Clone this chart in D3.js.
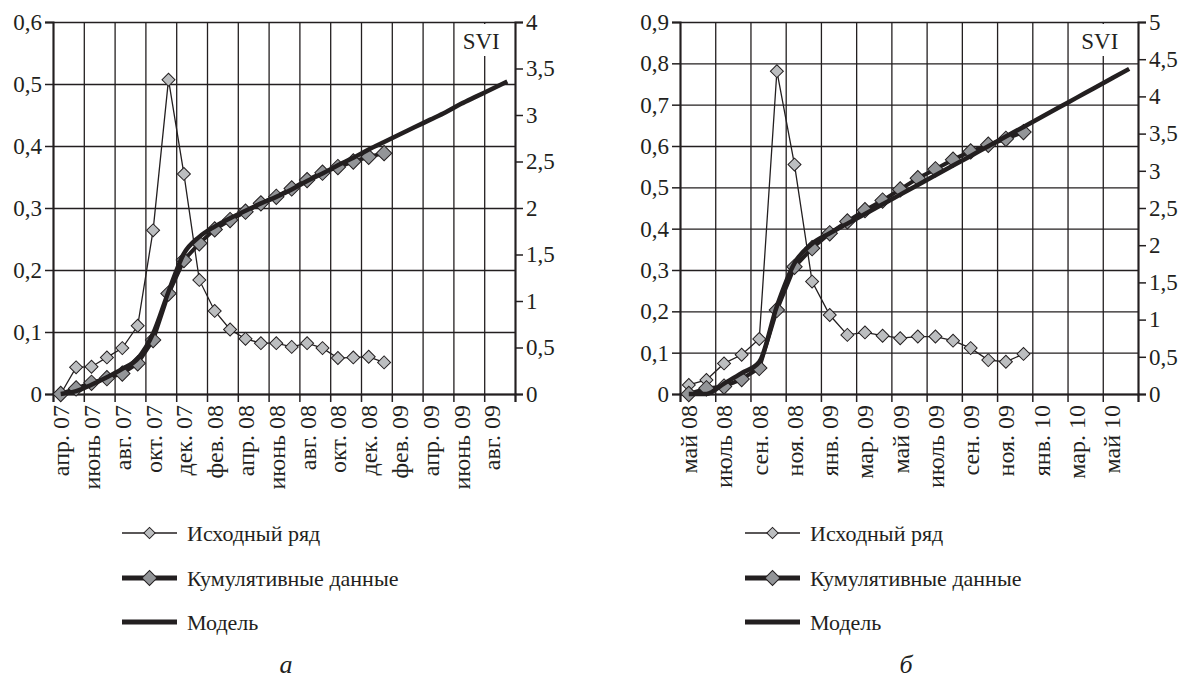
<!DOCTYPE html>
<html>
<head>
<meta charset="utf-8">
<script src="https://cdn.jsdelivr.net/npm/d3@7"></script>
<style>
  body { margin: 0; background: #fff; }
  svg text { font-family: "Times New Roman", Tinos, "Liberation Serif", serif; }
</style>
</head>
<body>
<div id="chart"></div>
<script>
// Data
// panel a: months apr.07 .. sep.09
var monthsA = ["апр. 07", "май 07", "июнь 07", "июль 07", "авг. 07", "сен. 07", "окт. 07", "ноя. 07",
  "дек. 07", "янв. 08", "фев. 08", "мар. 08", "апр. 08", "май 08", "июнь 08", "июль 08", "авг. 08",
  "сен. 08", "окт. 08", "ноя. 08", "дек. 08", "янв. 09", "фев. 09", "мар. 09", "апр. 09", "май 09",
  "июнь 09", "июль 09", "авг. 09", "сен. 09"];
var rawA = [0, 0.043, 0.044, 0.059, 0.074, 0.11, 0.264, 0.507, 0.355, 0.184, 0.134, 0.104, 0.089,
  0.082, 0.082, 0.076, 0.082, 0.074, 0.058, 0.059, 0.060, 0.051];
var cumA = [0, 0.06, 0.12, 0.17, 0.22, 0.33, 0.58, 1.08, 1.44, 1.62, 1.77, 1.87, 1.96, 2.05, 2.12,
  2.21, 2.30, 2.38, 2.44, 2.50, 2.55, 2.59];
var modelA = [0, 0.03, 0.10, 0.18, 0.27, 0.38, 0.65, 1.10, 1.51, 1.69, 1.80, 1.89, 1.97, 2.05, 2.12,
  2.20, 2.29, 2.37, 2.46, 2.54, 2.63, 2.71, 2.79, 2.87, 2.95, 3.03, 3.12, 3.20, 3.28, 3.36];
var leftTicksA = [0, 0.1, 0.2, 0.3, 0.4, 0.5, 0.6];
var rightTicksA = [0, 0.5, 1, 1.5, 2, 2.5, 3, 3.5, 4];

// panel b: months may 08 .. june 10
var monthsB = ["май 08", "июнь 08", "июль 08", "авг. 08", "сен. 08", "окт. 08", "ноя. 08", "дек. 08",
  "янв. 09", "фев. 09", "мар. 09", "апр. 09", "май 09", "июнь 09", "июль 09", "авг. 09", "сен. 09",
  "окт. 09", "ноя. 09", "дек. 09", "янв. 10", "фев. 10", "мар. 10", "апр. 10", "май 10", "июнь 10"];
var rawB = [0.022, 0.034, 0.074, 0.095, 0.133, 0.781, 0.555, 0.272, 0.191, 0.143, 0.149, 0.141,
  0.135, 0.139, 0.139, 0.129, 0.111, 0.082, 0.078, 0.097];
var cumB = [0, 0.076, 0.10, 0.20, 0.35, 1.13, 1.71, 1.96, 2.16, 2.32, 2.47, 2.60, 2.75, 2.90, 3.02,
  3.15, 3.26, 3.35, 3.43, 3.52];
var modelB = [0, 0, 0.14, 0.28, 0.43, 1.18, 1.76, 2.02, 2.16, 2.29, 2.42, 2.55, 2.68, 2.81, 2.94,
  3.07, 3.20, 3.33, 3.46, 3.59, 3.72, 3.85, 3.98, 4.11, 4.24, 4.37];
var leftTicksB = [0, 0.1, 0.2, 0.3, 0.4, 0.5, 0.6, 0.7, 0.8, 0.9];
var rightTicksB = [0, 0.5, 1, 1.5, 2, 2.5, 3, 3.5, 4, 4.5, 5];

var legendNames = ["Исходный ряд", "Кумулятивные данные", "Модель"];

var ink = "#231f20";
var lightFill = "#bcbec0";
var midFill = "#939598";
var fontSize = 22;

var svg = d3.select("#chart").append("svg")
  .attr("width", 1186)
  .attr("height", 695);

var ru = d3.formatLocale({ decimal: ",", thousands: " ", grouping: [3], currency: ["", ""] });
var fmt = ru.format(".1~f");

var diamond = d3.symbol().type(d3.symbolSquare);

drawPanel({
  months: monthsA, raw: rawA, cum: cumA, model: modelA,
  leftTicks: leftTicksA, rightTicks: rightTicksA,
  left: 53, right: 515, top: 22, bottom: 394,
  legendX: 122, caption: "а", captionX: 286
});
drawPanel({
  months: monthsB, raw: rawB, cum: cumB, model: modelB,
  leftTicks: leftTicksB, rightTicks: rightTicksB,
  left: 680, right: 1138, top: 22, bottom: 394,
  legendX: 745, caption: "б", captionX: 906
});

function drawPanel(p) {
  var n = p.months.length;
  var g = svg.append("g");

  // index scale: category i spans [i, i+1]
  var x = d3.scaleLinear().domain([0, n]).range([p.left, p.right]);
  var yL = d3.scaleLinear().domain([0, d3.max(p.leftTicks)]).range([p.bottom, p.top]);
  var yR = d3.scaleLinear().domain([0, d3.max(p.rightTicks)]).range([p.bottom, p.top]);
  var cx = function (i) { return x(i + 0.5); };
  var boundaries = d3.range(0, n + 1, 2);

  // grid
  g.append("g")
    .attr("transform", "translate(" + p.left + ",0)")
    .call(d3.axisLeft(yL).tickValues(p.leftTicks).tickSize(-(p.right - p.left)).tickFormat(""))
    .call(function (s) {
      s.select(".domain").remove();
      s.selectAll("line").attr("stroke", ink).attr("stroke-width", 1.3);
    });
  g.append("g")
    .attr("transform", "translate(0," + p.bottom + ")")
    .call(d3.axisBottom(x).tickValues(boundaries).tickSize(-(p.bottom - p.top)).tickFormat(""))
    .call(function (s) {
      s.select(".domain").remove();
      s.selectAll("line").attr("stroke", ink).attr("stroke-width", 1.3);
    });

  // SVI label with white box over the grid
  var sviX = x(n - 2) - 3;
  g.append("rect")
    .attr("x", sviX - 19).attr("y", p.top + 2)
    .attr("width", 38).attr("height", 32)
    .attr("fill", "#fff");
  g.append("text")
    .attr("x", sviX).attr("y", p.top + 27)
    .attr("text-anchor", "middle")
    .attr("font-size", 23)
    .attr("fill", ink)
    .text("SVI");

  // axes
  g.append("g")
    .attr("transform", "translate(" + p.left + ",0)")
    .call(d3.axisLeft(yL).tickValues(p.leftTicks).tickSize(8).tickPadding(3).tickFormat(fmt))
    .call(styleAxis);
  g.append("g")
    .attr("transform", "translate(" + p.right + ",0)")
    .call(d3.axisRight(yR).tickValues(p.rightTicks).tickSize(8).tickPadding(3).tickFormat(fmt))
    .call(styleAxis);
  g.append("g")
    .attr("transform", "translate(0," + p.bottom + ")")
    .call(d3.axisBottom(x).tickValues(boundaries).tickSize(8).tickFormat(""))
    .call(styleAxis);

  // x labels, every other month
  g.append("g").selectAll("text")
    .data(p.months.filter(function (d, i) { return i % 2 === 0; }))
    .enter().append("text")
    .attr("transform", function (d, k) {
      return "translate(" + cx(k * 2) + "," + (p.bottom + 11) + ") rotate(-90)";
    })
    .attr("dy", "0.35em")
    .attr("text-anchor", "end")
    .attr("font-size", 24)
    .attr("fill", ink)
    .text(function (d) { return d; });

  // original series (left axis)
  g.append("path")
    .datum(p.raw)
    .attr("fill", "none")
    .attr("stroke", ink)
    .attr("stroke-width", 1.3)
    .attr("d", d3.line().x(function (d, i) { return cx(i); }).y(function (d) { return yL(d); }));
  g.append("g").selectAll("path")
    .data(p.raw)
    .enter().append("path")
    .attr("transform", function (d, i) { return "translate(" + cx(i) + "," + yL(d) + ") rotate(45)"; })
    .attr("d", diamond.size(84))
    .attr("fill", lightFill)
    .attr("stroke", ink)
    .attr("stroke-width", 1);

  // cumulative (right axis)
  g.append("path")
    .datum(p.cum)
    .attr("fill", "none")
    .attr("stroke", ink)
    .attr("stroke-width", 4)
    .attr("d", d3.line().x(function (d, i) { return cx(i); }).y(function (d) { return yR(d); }));
  g.append("g").selectAll("path")
    .data(p.cum)
    .enter().append("path")
    .attr("transform", function (d, i) { return "translate(" + cx(i) + "," + yR(d) + ") rotate(45)"; })
    .attr("d", diamond.size(118))
    .attr("fill", midFill)
    .attr("stroke", ink)
    .attr("stroke-width", 1);

  // model
  g.append("path")
    .datum(p.model)
    .attr("fill", "none")
    .attr("stroke", ink)
    .attr("stroke-width", 4.5)
    .attr("stroke-linejoin", "round")
    .attr("d", d3.line().curve(d3.curveMonotoneX)
      .x(function (d, i) { return cx(i); }).y(function (d) { return yR(d); }));

  // legend
  var rows = [533, 578, 622];
  var lg = g.append("g");
  rows.forEach(function (ry, k) {
    lg.append("line")
      .attr("x1", p.legendX).attr("x2", p.legendX + 55)
      .attr("y1", ry).attr("y2", ry)
      .attr("stroke", ink)
      .attr("stroke-width", k === 0 ? 1.3 : 5);
    if (k < 2) {
      lg.append("path")
        .attr("transform", "translate(" + (p.legendX + 27.5) + "," + ry + ") rotate(45)")
        .attr("d", diamond.size(k === 0 ? 64 : 112))
        .attr("fill", k === 0 ? lightFill : midFill)
        .attr("stroke", ink)
        .attr("stroke-width", 1);
    }
    lg.append("text")
      .attr("x", p.legendX + 65).attr("y", ry)
      .attr("dy", "0.35em")
      .attr("font-size", fontSize)
      .attr("fill", ink)
      .text(legendNames[k]);
  });

  // caption
  g.append("text")
    .attr("x", p.captionX).attr("y", 673)
    .attr("text-anchor", "middle")
    .attr("font-size", 26)
    .attr("font-style", "italic")
    .attr("fill", ink)
    .text(p.caption);
}

function styleAxis(s) {
  s.select(".domain").attr("stroke", ink).attr("stroke-width", 2);
  s.selectAll(".tick line").attr("stroke", ink).attr("stroke-width", 1.5);
  s.selectAll(".tick text")
    .attr("fill", ink)
    .attr("font-size", 23);
}
</script>
</body>
</html>
